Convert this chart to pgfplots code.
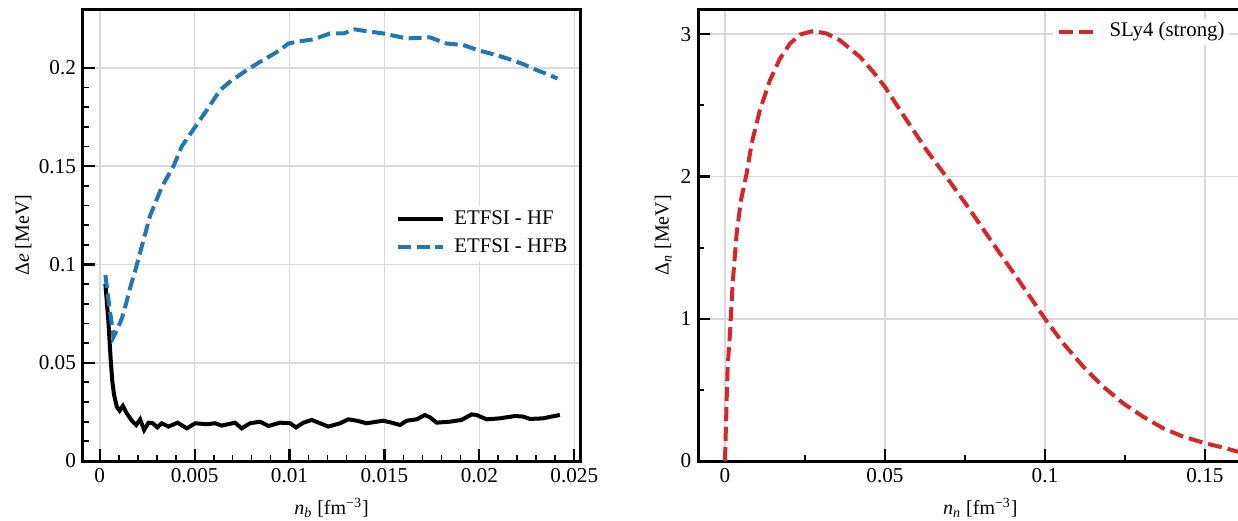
\documentclass[border=0pt]{standalone}
\usepackage{fontspec}
\setmainfont{Liberation Serif}
\usepackage{pgfplots}
\pgfplotsset{compat=1.18}

\definecolor{mblue}{HTML}{1F77B4}
\definecolor{mred}{HTML}{D62728}

\pgfplotsset{
  mystyle/.style={
    scale only axis,
    height=225.75pt,
    anchor=south west,
    tick align=inside,
    tick pos=left,
    major tick length=6pt,
    minor tick length=2.8pt,
    major tick style={black, line width=1.1pt},
    minor tick style={black, line width=0.9pt},
    axis line style={line width=1.5pt},
    grid=major,
    major grid style={gray!30, line width=0.8pt},
    /pgf/number format/assume math mode=true,
    /pgf/number format/fixed,
    /pgf/number format/precision=3,
    scaled ticks=false,
    tick label style={font=\fontsize{10.6}{12}\selectfont},
    label style={font=\fontsize{10.6}{12}\selectfont},
    legend cell align=left,
    legend style={font=\fontsize{10.4}{12}\selectfont, draw=none, fill=white,
      inner sep=2pt,
      nodes={inner sep=0pt, text height=7.2pt, text depth=2.2pt},
      row sep=4.8pt},
    every axis x label/.style={at={(rel axis cs:0.5,0)}, anchor=center, yshift=-23.5pt},
    every axis y label/.style={at={(rel axis cs:0,0.5)}, anchor=center, rotate=90},
  }
}

\pgfplotstableread{
x y
0.00030 0.0900
0.00045 0.0720
0.00058 0.0514
0.00066 0.0410
0.00075 0.0340
0.00090 0.0276
0.00105 0.0256
0.00122 0.0280
0.00143 0.0242
0.00169 0.0205
0.00192 0.0183
0.00213 0.0212
0.00234 0.0158
0.00257 0.0195
0.00280 0.0192
0.00304 0.0171
0.00327 0.0192
0.00362 0.0175
0.00410 0.0195
0.00459 0.0166
0.00503 0.0192
0.00564 0.0187
0.00608 0.0192
0.00643 0.0180
0.00713 0.0195
0.00748 0.0166
0.00792 0.0192
0.00845 0.0200
0.00889 0.0178
0.00950 0.0195
0.01003 0.0192
0.01034 0.0171
0.01073 0.0195
0.01117 0.0209
0.01161 0.0192
0.01204 0.0175
0.01266 0.0192
0.01310 0.0212
0.01354 0.0205
0.01406 0.0192
0.01494 0.0205
0.01538 0.0195
0.01582 0.0183
0.01617 0.0205
0.01670 0.0212
0.01713 0.0234
0.01740 0.0222
0.01775 0.0195
0.01845 0.0200
0.01906 0.0209
0.01959 0.0237
0.01985 0.0234
0.02038 0.0212
0.02108 0.0217
0.02187 0.0229
0.02231 0.0226
0.02266 0.0214
0.02336 0.0217
0.02380 0.0226
0.02424 0.0234
}\hftable

\pgfplotstableread{
x y
0.00030 0.0946
0.00050 0.0790
0.00073 0.0632
0.00095 0.0675
0.00117 0.0726
0.00140 0.0805
0.00160 0.0880
0.00178 0.0938
0.00196 0.1000
0.00266 0.1250
0.00330 0.1400
0.00389 0.1500
0.00432 0.1600
0.00503 0.1700
0.00564 0.1785
0.00634 0.1887
0.00687 0.1930
0.00775 0.1989
0.00845 0.2031
0.00906 0.2065
0.00950 0.2091
0.00994 0.2124
0.01038 0.2133
0.01126 0.2145
0.01213 0.2175
0.01284 0.2175
0.01345 0.2196
0.01389 0.2189
0.01494 0.2175
0.01617 0.2150
0.01740 0.2155
0.01827 0.2124
0.01915 0.2116
0.02003 0.2087
0.02091 0.2065
0.02161 0.2043
0.02231 0.2019
0.02301 0.1989
0.02371 0.1963
0.02411 0.1946
}\hfbtable

\pgfplotstableread{
x y
0.00000 0.000
0.00052 0.429
0.00083 0.663
0.00156 0.897
0.00240 1.248
0.00365 1.600
0.00500 1.834
0.00677 2.021
0.00833 2.232
0.01090 2.466
0.01406 2.677
0.01719 2.829
0.02031 2.934
0.02344 2.998
0.02760 3.023
0.03180 3.005
0.03590 2.958
0.04219 2.841
0.04635 2.735
0.05000 2.630
0.05677 2.396
0.06302 2.185
0.07030 1.963
0.07550 1.800
0.08070 1.630
0.08590 1.460
0.09120 1.290
0.09640 1.120
0.10000 1.000
0.10573 0.827
0.11198 0.663
0.11823 0.522
0.12448 0.405
0.13073 0.311
0.13698 0.2295
0.14323 0.171
0.15030 0.124
0.15573 0.0937
0.16031 0.0656
0.16300 0.056
}\slytable

\begin{document}
\begin{tikzpicture}
\begin{axis}[mystyle,
  at={(0pt,0pt)},
  width=248.5pt,
  xmin=-0.00088, xmax=0.0253,
  ymin=0, ymax=0.2297,
  xtick={0,0.005,0.01,0.015,0.02,0.025},
  xticklabels={0,0.005,0.01,0.015,0.02,0.025},
  ytick={0,0.05,0.1,0.15,0.2},
  yticklabels={0,0.05,0.1,0.15,0.2},
  minor x tick num=4,
  minor y tick num=4,
  xlabel={\textit{n}\textsubscript{\textit{b}} [fm\textsuperscript{−3}]},
  ylabel={Δ\textit{e} [MeV]},
  every axis y label/.append style={yshift=29.8pt},
  legend image code/.code={\draw[#1] (0pt,0pt) -- (22.5pt,0pt);},
  legend style={at={(rel axis cs:1,0.5)}, anchor=east, xshift=-4pt, yshift=1pt,
    /tikz/every odd column/.append style={column sep=4.7pt}},
]
\addplot[black, line width=2pt, no markers] table[x=x,y=y] {\hftable};
\addlegendentry{ETFSI - HF}
\addplot[mblue, line width=2pt, dash pattern=on 6.5pt off 2.8pt, no markers] table[x=x,y=y] {\hfbtable};
\addlegendentry{ETFSI - HFB}
\end{axis}

\begin{axis}[mystyle,
  at={(307.65pt,0pt)},
  width=282.1pt,
  xmin=-0.00834, xmax=0.168,
  ymin=0, ymax=3.174,
  xtick={0,0.05,0.1,0.15},
  xticklabels={0,0.05,0.1,0.15},
  ytick={0,1,2,3},
  minor x tick num=1,
  minor y tick num=1,
  xlabel={\textit{n}\textsubscript{\textit{n}} [fm\textsuperscript{−3}]},
  ylabel={Δ\textsubscript{\textit{n}} [MeV]},
  every axis y label/.append style={yshift=17.5pt},
  legend image code/.code={\draw[#1] (0pt,0pt) -- (18.3pt,0pt);},
  legend style={at={(rel axis cs:1,1)}, anchor=east, xshift=-16.8pt, yshift=-11.2pt,
    /tikz/every odd column/.append style={column sep=6pt}},
]
\addplot[mred, line width=2pt, dash pattern=on 7pt off 3pt, no markers] table[x=x,y=y] {\slytable};
\addlegendentry{SLy4 (strong)}
\end{axis}
\pgfresetboundingbox
\useasboundingbox (-41.5pt,-29.5pt) rectangle (577.5pt,230.5pt);
\end{tikzpicture}
\end{document}
